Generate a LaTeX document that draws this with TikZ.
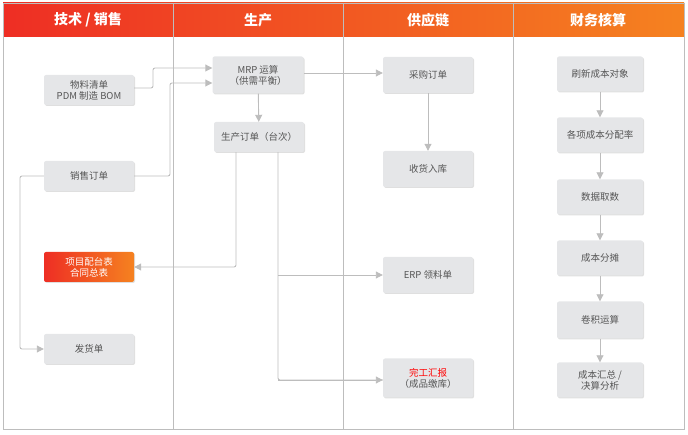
\documentclass[tikz,border=0pt]{standalone}
\usepackage{fontspec}
\setmainfont{Noto Sans CJK SC}
\usetikzlibrary{arrows.meta,shadows}
\definecolor{ln}{HTML}{BDBDBD}
\definecolor{bx}{HTML}{E5E6E8}
\definecolor{tx}{HTML}{555555}
\definecolor{r1}{HTML}{EE2E24}
\definecolor{r2}{HTML}{F58220}
\begin{document}
\begin{tikzpicture}[x=1pt,y=-1pt,
 box/.style={draw=none,fill=bx,rounded corners=2pt,minimum width=90pt,minimum height=30pt,
   text=tx,font=\fontsize{9.5}{11}\selectfont,align=center,inner sep=1pt,
   drop shadow={shadow xshift=1pt,shadow yshift=-1pt,opacity=0.25}},
 con/.style={draw=ln,line width=0.9pt,rounded corners=2pt},
 arr/.style={con,-{Triangle[length=7pt,width=7pt]}},
 hd/.style={text=white,font=\bfseries\fontsize{14}{16}\selectfont}]
\useasboundingbox (0,0) rectangle (688,435);
\shade[left color=r1,right color=r2] (3,3) rectangle (684,37);
\draw[ln,line width=0.8pt] (3,3) rectangle (684,429);
\foreach \x in {173,343,513} \draw[ln,line width=0.8pt] (\x,3) -- (\x,429);
\node[hd] (h1) at (88,20) {技术 / 销售};
\node[hd] (h2) at (258,20) {生产};
\node[hd] (h3) at (428,20) {供应链};
\node[hd] (h4) at (598,20) {财务核算};
\node[box] (bom) at (89,90) {物料清单\\PDM 制造 BOM};
\node[box] (sales) at (89,176) {销售订单};
\node[box,fill=none,left color=r1,right color=r2,text=white] (proj) at (89,267) {项目配台表\\合同总表};
\node[box] (ship) at (89,349) {发货单};
\node[box,minimum width=91pt,minimum height=37pt] (mrp) at (258,75) {MRP 运算\\（供需平衡）};
\node[box] (po) at (259,137) {生产订单（台次）};
\node[box,minimum height=36pt] (pur) at (428,75) {采购订单};
\node[box,minimum height=36pt] (recv) at (428,169) {收货入库};
\node[box,minimum height=36pt] (erp) at (428,275) {ERP 领料单};
\node[box,minimum height=39pt] (done) at (428,378) {\textcolor{red}{完工汇报}\\（成品缴库）};
\node[box,minimum width=86pt,minimum height=35pt] (f1) at (600,74) {刷新成本对象};
\node[box,minimum width=86pt,minimum height=35pt] (f2) at (600,135) {各项成本分配率};
\node[box,minimum width=86pt,minimum height=35pt] (f3) at (600,197) {数据取数};
\node[box,minimum width=86pt,minimum height=35pt] (f4) at (600,258) {成本分摊};
\node[box,minimum width=86pt,minimum height=37pt] (f5) at (600,320) {卷积运算};
\node[box,minimum width=86pt,minimum height=35pt] (f6) at (600,380) {成本汇总 /\\决算分析};
\coordinate (c1) at (153,88);
\draw[arr] (bom.east |- c1) -- (c1) -- (153,68) -- (mrp.west |- 0,68);
\draw[arr] (sales.east) -- (170,176) -- (170,83) -- (mrp.west |- 0,83);
\draw[arr] (sales.west) -- (20,176) -- (20,349) -- (ship.west);
\draw[arr] (mrp) -- (po);
\draw[arr] (mrp.east |- 0,73) -- (pur.west |- 0,73);
\draw[arr] (pur) -- (recv);
\draw[arr] (po.south -| 236,0) -- (236,267) -- (proj.east);
\draw[con] (po.south -| 278,0) -- (278,380) -- (done.west |- 0,380);
\draw[arr] (278,380) -- (done.west |- 0,380);
\draw[arr] (278,275) -- (erp.west);
\foreach \a/\b in {f1/f2,f2/f3,f3/f4,f4/f5,f5/f6} \draw[arr] (\a) -- (\b);
\end{tikzpicture}
\end{document}
